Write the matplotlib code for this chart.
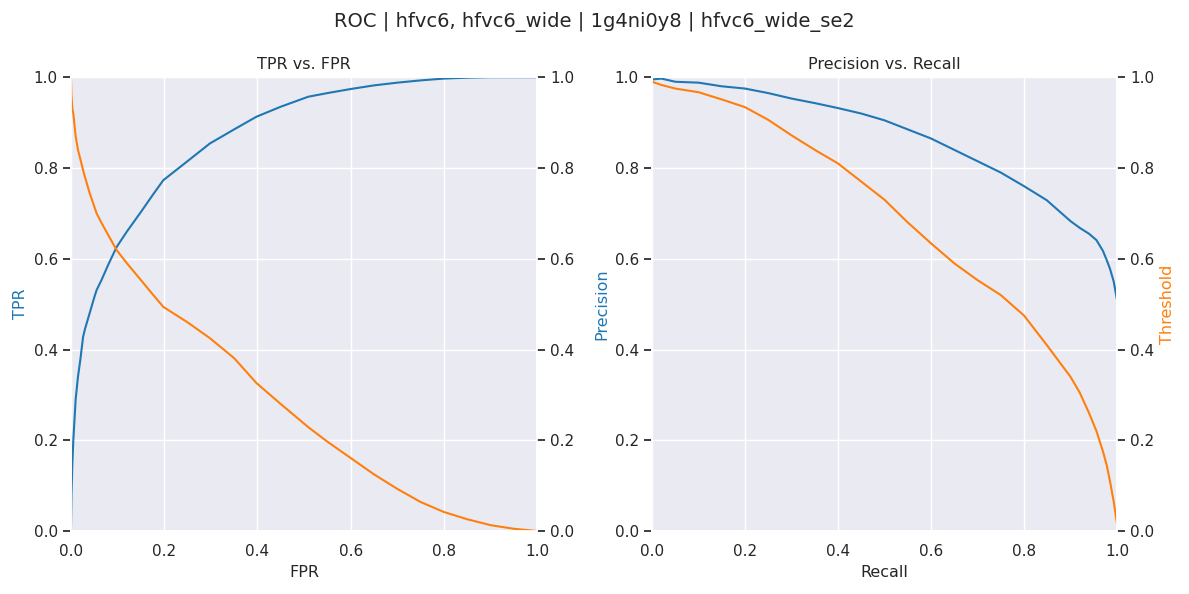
import matplotlib
matplotlib.use("Agg")
import matplotlib.pyplot as plt
import numpy as np
import seaborn as sns

sns.set_theme(style="darkgrid")

# ROC curve values
fpr = [0.0, 0.001, 0.003, 0.005, 0.01, 0.015, 0.02, 0.026, 0.03, 0.04, 0.05, 0.055, 0.065, 0.08,
       0.098, 0.12, 0.15, 0.175, 0.198, 0.25, 0.298, 0.35, 0.398, 0.45, 0.509, 0.55, 0.6, 0.65,
       0.7, 0.75, 0.8, 0.85, 0.9, 0.95, 1.0]
tpr = [0.0, 0.08, 0.15, 0.2, 0.29, 0.34, 0.377, 0.428, 0.445, 0.48, 0.515, 0.531, 0.552, 0.587,
       0.626, 0.66, 0.703, 0.74, 0.773, 0.815, 0.854, 0.885, 0.913, 0.935, 0.957, 0.965, 0.974,
       0.982, 0.988, 0.993, 0.997, 0.999, 1.0, 1.0, 1.0]
roc_thr = [1.0, 0.96, 0.93, 0.92, 0.87, 0.84, 0.82, 0.795, 0.78, 0.745, 0.715, 0.70, 0.68, 0.652,
           0.619, 0.59, 0.553, 0.522, 0.494, 0.46, 0.425, 0.381, 0.326, 0.28, 0.229, 0.197, 0.161,
           0.125, 0.093, 0.064, 0.042, 0.026, 0.013, 0.005, 0.0]

# Precision / recall values
recall = [0.0, 0.02, 0.05, 0.1, 0.15, 0.2, 0.25, 0.3, 0.35, 0.4, 0.45, 0.5, 0.55, 0.6, 0.65,
          0.7, 0.75, 0.8, 0.849, 0.9, 0.92, 0.94, 0.956, 0.97, 0.978, 0.985, 0.993, 1.0]
precision = [0.995, 0.997, 0.99, 0.988, 0.98, 0.975, 0.965, 0.953, 0.943, 0.932, 0.92, 0.905,
             0.885, 0.865, 0.84, 0.815, 0.79, 0.76, 0.729, 0.683, 0.668, 0.655, 0.641, 0.617,
             0.597, 0.578, 0.55, 0.51]
pr_thr = [0.99, 0.983, 0.975, 0.967, 0.951, 0.934, 0.906, 0.872, 0.84, 0.81, 0.77, 0.73, 0.68,
          0.634, 0.59, 0.553, 0.52, 0.475, 0.41, 0.34, 0.305, 0.26, 0.22, 0.175, 0.145, 0.11,
          0.065, 0.017]

blue = "tab:blue"
orange = "tab:orange"

fig = plt.figure(figsize=(11.89, 5.94), dpi=100)
ax1 = fig.add_axes([0.0597, 0.106, 0.392, 0.764])
ax2 = fig.add_axes([0.5484, 0.106, 0.391, 0.764])

fig.suptitle("ROC | hfvc6, hfvc6_wide | 1g4ni0y8 | hfvc6_wide_se2", fontsize=14, y=0.98)

# Left panel: TPR vs FPR
ax1.plot(fpr, tpr, color=blue, linewidth=1.5)
ax1.set_xlim(0, 1)
ax1.set_ylim(0, 1)
ax1.set_xlabel("FPR", fontsize=11.5)
ax1.set_ylabel("TPR", color=blue, fontsize=11.5)
ax1.set_title("TPR vs. FPR", fontsize=11.5)
ax1.tick_params(axis="y", left=True)
t1 = ax1.twinx()
t1.plot(fpr, roc_thr, color=orange, linewidth=1.5)
t1.set_ylim(0, 1)
t1.grid(False)
t1.tick_params(axis="y", right=True)

# Right panel: Precision vs Recall
ax2.plot(recall, precision, color=blue, linewidth=1.5)
ax2.set_xlim(0, 1)
ax2.set_ylim(0, 1)
ax2.set_xlabel("Recall", fontsize=11.5)
ax2.set_ylabel("Precision", color=blue, fontsize=11.5)
ax2.set_title("Precision vs. Recall", fontsize=11.5)
ax2.tick_params(axis="y", left=True)
t2 = ax2.twinx()
t2.plot(recall, pr_thr, color=orange, linewidth=1.5)
t2.set_ylim(0, 1)
t2.set_ylabel("Threshold", color=orange, fontsize=11.5)
t2.grid(False)
t2.tick_params(axis="y", right=True)

for a in (ax1, ax2, t1, t2):
    a.set_yticks(np.arange(0, 1.01, 0.2))

fig.savefig("out.png", dpi=100)
